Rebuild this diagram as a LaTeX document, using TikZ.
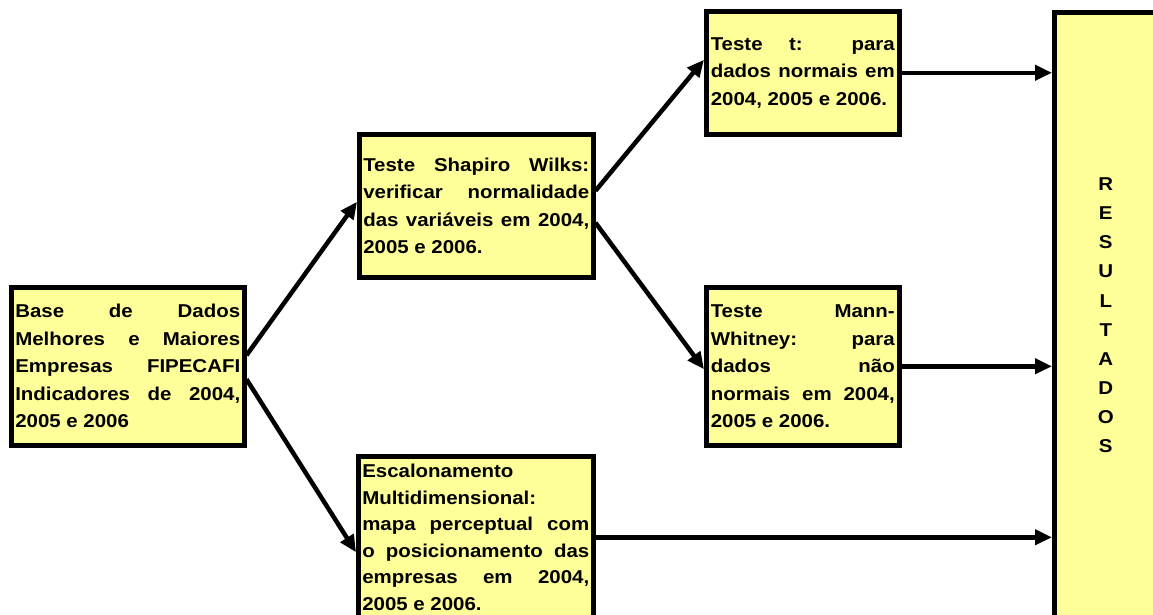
\documentclass[tikz,border=0pt]{standalone}
\usepackage{fontspec}
\newfontfamily\boxfont{Liberation Sans}[FakeStretch=1.1]
\usepackage{tikz}
\usetikzlibrary{arrows.meta, positioning, calc}
\definecolor{boxyellow}{HTML}{FFFF99}
\setlength{\parindent}{0pt}
\newcommand{\boxsetup}{\tolerance=10000\relax\hbadness=10000\relax\hyphenpenalty=10000\relax}
\tikzset{
    box/.style={draw=black, line width=4.5pt, fill=boxyellow, anchor=north west, align=justify, inner xsep=4pt, inner ysep=0pt,
      font=\boxfont\bfseries\fontsize{18.6}{#1}\selectfont\boxsetup},
    box/.default=27.5,
    resbox/.style={draw=black, line width=4.5pt, fill=boxyellow, anchor=north west, align=center, inner sep=0pt,
      font=\boxfont\bfseries\fontsize{18.6}{29.1}\selectfont},
    arr/.style={-{Triangle[length=17pt, width=15pt]}, line width=4.5pt, draw=black}
}

\begin{document}
\begin{tikzpicture}[x=1pt, y=-1pt]

    \clip (0,0) rectangle (1153,614);

    \node[box, text width=225pt, minimum height=158pt] (base) at (9,285) {
      Base de Dados\linebreak Melhores e Maiores\linebreak Empresas FIPECAFI\linebreak Indicadores de 2004,\linebreak 2005 e 2006
    };

    \node[box, text width=226pt, minimum height=143pt] (shap) at (357,132) {
      Teste Shapiro Wilks:\linebreak verificar normalidade\linebreak das variáveis em 2004,\linebreak 2005 e 2006.
    };

    \node[box=26.6, text width=227pt, minimum height=162pt] (esc) at (356,454) {
      Escalonamento\linebreak Multidimensional:\linebreak mapa perceptual com\linebreak o posicionamento das\linebreak empresas em 2004,\linebreak 2005 e 2006.
    };

    \node[box, text width=184pt, inner xsep=4.5pt, minimum height=123pt] (testt) at (704,9) {
      Teste t: para\linebreak dados normais em\linebreak 2004, 2005 e 2006.
    };

    \node[box, text width=184pt, inner xsep=4.5pt, minimum height=158pt] (mw) at (704,285) {
      Teste Mann-\linebreak Whitney: para\linebreak dados não\linebreak normais em 2004,\linebreak 2005 e 2006.
    };

    \node[resbox, minimum width=103pt, minimum height=606pt] (res) at (1052,10) {R\\E\\S\\U\\L\\T\\A\\D\\O\\S};

    \draw[arr] ([yshift=11pt]base.east) -- ([yshift=4pt]shap.west);
    \draw[arr] ([yshift=-13pt]base.east) -- ([yshift=-15pt]esc.west);
    \draw[arr] ([yshift=15pt]shap.east) -- ([yshift=13pt]testt.west);
    \draw[arr] ([yshift=-17pt]shap.east) -- ([yshift=-3pt]mw.west);
    \draw[arr] (testt.east) -- (testt.east -| res.west);
    \draw[arr] (mw.east) -- (mw.east -| res.west);
    \draw[arr] (esc.east) -- (esc.east -| res.west);
  \end{tikzpicture}
\end{document}
